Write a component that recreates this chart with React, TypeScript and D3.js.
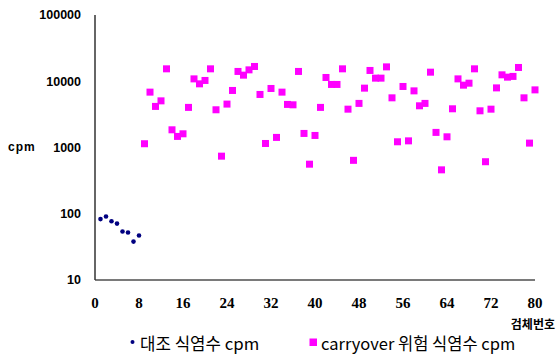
import React from 'react';
import * as d3 from 'd3';

// sample numbers and cpm readings
const controlSamples = [1, 2, 3, 4, 5, 6, 7, 8];
const controlCpm = [83, 91, 77, 71, 54, 52, 38, 47];

const carrySamples = [
  9, 10, 11, 12, 13, 14, 15, 16, 17, 18, 19, 20, 21, 22, 23, 24, 25, 26, 27, 28,
  29, 30, 31, 32, 33, 34, 35, 36, 37, 38, 39, 40, 41, 42, 43, 44, 45, 46, 47, 48,
  49, 50, 51, 52, 53, 54, 55, 56, 57, 58, 59, 60, 61, 62, 63, 64, 65, 66, 67, 68,
  69, 70, 71, 72, 73, 74, 75, 76, 77, 78, 79, 80,
];
const carryCpm = [
  1140, 6850, 4170, 5060, 15400, 1850, 1470, 1610, 4030, 10860, 9140, 10280, 15400, 3710, 740, 4520, 7260, 14060, 12360, 14860,
  16710, 6320, 1150, 7780, 1420, 6850, 4470, 4410, 14060, 1630, 560, 1520, 4030, 11400, 8950, 8950, 15400, 3790, 640, 4630,
  7870, 14550, 11140, 11140, 16480, 5620, 1220, 8340, 1260, 7160, 4260, 4630, 13710, 1690, 460, 1450, 3840, 10860, 8730, 9350,
  15400, 3580, 610, 3790, 7940, 12500, 11530, 11830, 16140, 5620, 1165, 7410,
];

const xTicks = [0, 8, 16, 24, 32, 40, 48, 56, 64, 72, 80];
const yTicks = [10, 100, 1000, 10000, 100000];

const controlLabel = '대조 식염수 cpm';
const carryLabel = 'carryover 위험 식염수 cpm';

const W = 556;
const H = 356;
const m = { left: 95, right: 21, top: 15, bottom: 76 };

const App = () => {
  const x = d3.scaleLinear().domain([0, 80]).range([m.left, W - m.right]);
  const y = d3.scaleLog().domain([10, 100000]).range([H - m.bottom, m.top]);
  const sq = 7;

  return (
    <svg width={W} height={H} style={{ position: 'absolute', left: 0, top: 0, background: '#fff' }}>
      {/* axes */}
      <line x1={x(0)} x2={x(80)} y1={y(10)} y2={y(10)} stroke="#7a7a7a" strokeWidth={2} />
      <line x1={x(0)} x2={x(0)} y1={y(100000)} y2={y(10)} stroke="#333" strokeWidth={1.5} />

      {yTicks.map(t => (
        <text key={t} x={81} y={y(t)} dy="0.35em" textAnchor="end"
          fontFamily="'Liberation Sans', Arial, sans-serif" fontWeight="bold" fontSize={12.5} fill="#000">
          {t}
        </text>
      ))}
      {xTicks.map(t => (
        <text key={t} x={x(t)} y={303} dy="0.35em" textAnchor="middle"
          fontFamily="'Liberation Serif', serif" fontWeight="bold" fontSize={15} fill="#000">
          {t}
        </text>
      ))}

      <text x={8} y={147} dy="0.35em" fontFamily="'Liberation Sans', Arial, sans-serif"
        fontWeight="bold" fontSize={12} letterSpacing={1} fill="#000">cpm</text>
      <text x={555} y={325} dy="0.35em" textAnchor="end" fontFamily="'Noto Sans CJK KR', sans-serif"
        fontWeight="bold" fontSize={12} fill="#000">검체번호</text>

      {/* series */}
      {carrySamples.map((s, i) => (
        <rect key={'c' + s} x={x(s) - sq / 2} y={y(carryCpm[i]) - sq / 2} width={sq} height={sq} fill="#ff00ff" />
      ))}
      {controlSamples.map((s, i) => (
        <circle key={'k' + s} cx={x(s)} cy={y(controlCpm[i])} r={2.3} fill="#000080" />
      ))}

      {/* legend */}
      <circle cx={132.5} cy={342} r={2} fill="#000080" />
      <text x={140} y={350} fontFamily="'Noto Sans CJK KR', sans-serif" fontSize={16.8} fill="#000">{controlLabel}</text>
      <rect x={309.5} y={338.5} width={7.5} height={7.5} fill="#ff00ff" />
      <text x={321} y={350} fontFamily="'Noto Sans CJK KR', sans-serif" fontSize={16.5} fill="#000">{carryLabel}</text>
    </svg>
  );
};

export default App;
